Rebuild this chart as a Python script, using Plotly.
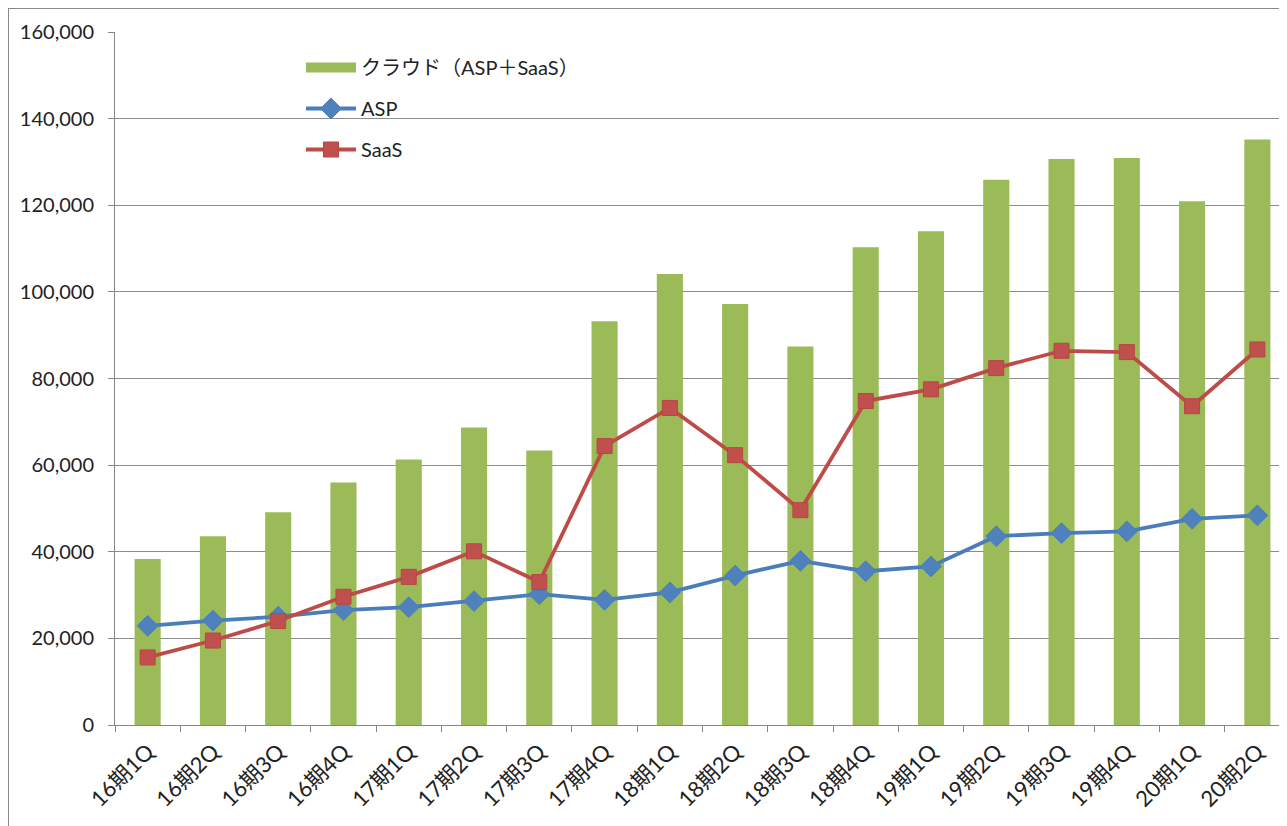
import plotly.graph_objects as go

categories = ["16期1Q", "16期2Q", "16期3Q", "16期4Q", "17期1Q", "17期2Q", "17期3Q", "17期4Q",
              "18期1Q", "18期2Q", "18期3Q", "18期4Q", "19期1Q", "19期2Q", "19期3Q", "19期4Q",
              "20期1Q", "20期2Q"]
cloud = [38300, 43600, 49100, 56000, 61300, 68700, 63400, 93200, 104100, 97200, 87400,
         110300, 114000, 125900, 130700, 130900, 120900, 135200]
asp = [22900, 24100, 25000, 26500, 27200, 28600, 30200, 28900, 30600, 34500, 37900,
       35500, 36600, 43600, 44300, 44700, 47600, 48400]
saas = [15600, 19500, 24000, 29600, 34200, 40100, 33000, 64400, 73200, 62300, 49600,
        74800, 77500, 82400, 86400, 86100, 73600, 86700]
y_ticks = [0, 20000, 40000, 60000, 80000, 100000, 120000, 140000, 160000]

FONT = "Lato, 'Noto Sans CJK JP', sans-serif"
GREEN = "#9BBB59"

fig = go.Figure()
fig.add_trace(go.Bar(x=categories, y=cloud, name="クラウド（ASP＋SaaS）",
                     marker=dict(color=GREEN, line=dict(width=0)),
                     width=0.4, showlegend=False, legendgroup="a"))
# legend entry for the bar series drawn as a wide rectangle like the original
fig.add_trace(go.Scatter(x=[None], y=[None], name="クラウド（ASP＋SaaS）", mode="lines",
                         line=dict(color=GREEN, width=15), legendgroup="a"))
fig.add_trace(go.Scatter(x=categories, y=asp, name="ASP", mode="lines+markers",
                         line=dict(color="#4A7EBB", width=3.8),
                         marker=dict(symbol="diamond", size=16, color="#4F81BD",
                                     line=dict(color="#4A7EBB", width=1)),
                         legendgroup="b"))
fig.add_trace(go.Scatter(x=categories, y=saas, name="SaaS", mode="lines+markers",
                         line=dict(color="#BE4B48", width=3.8),
                         marker=dict(symbol="square", size=15, color="#C0504D",
                                     line=dict(color="#B84541", width=1)),
                         legendgroup="c"))

# page body has an 8px margin, so figure coordinates are offset by 8px
W, H = 1287, 826
L, T, R, B = 107, 24, 5, 826 - 717
PW, PH = W - L - R, H - T - B

fig.update_layout(
    width=W, height=H,
    margin=dict(l=L, r=R, t=T, b=B, autoexpand=False),
    paper_bgcolor="white", plot_bgcolor="white",
    font=dict(family=FONT, size=20, color="#222222"),
    showlegend=True,
    legend=dict(x=(293 - L) / PW, y=1 - (40 - T) / PH, xanchor="left", yanchor="top",
                traceorder="grouped", tracegroupgap=12, itemwidth=50,
                font=dict(family=FONT, size=20, color="#222222"),
                bgcolor="rgba(0,0,0,0)"),
    xaxis=dict(type="category", range=[-0.5, 17.5], tickangle=-45,
               showgrid=False, showline=True, linecolor="#868686", linewidth=1,
               ticks="outside", tickson="boundaries", ticklen=6, tickcolor="#868686",
               ticklabelstandoff=4,
               tickfont=dict(family=FONT, size=22, color="#222222")),
    yaxis=dict(range=[0, 160000], tickvals=y_ticks, tickformat=",d",
               showgrid=True, gridcolor="#8C8C8C", gridwidth=1,
               showline=True, linecolor="#868686", linewidth=1,
               ticks="outside", ticklen=6, tickcolor="#868686",
               ticklabelstandoff=10,
               tickfont=dict(family=FONT, size=20, color="#222222"),
               zeroline=False),
    shapes=[
        dict(type="line", xref="paper", yref="paper",
             x0=(0 - L) / PW, x1=(0 - L) / PW, y0=-B / PH - 0.02, y1=1 + (T - 0) / PH,
             line=dict(color="#898989", width=2)),
        dict(type="line", xref="paper", yref="paper",
             x0=(0 - L) / PW, x1=1 + (R + 5) / PW, y0=1 + (T - 0) / PH, y1=1 + (T - 0) / PH,
             line=dict(color="#898989", width=2)),
    ],
    bargap=0.6,
)

fig.write_html("out.html")
